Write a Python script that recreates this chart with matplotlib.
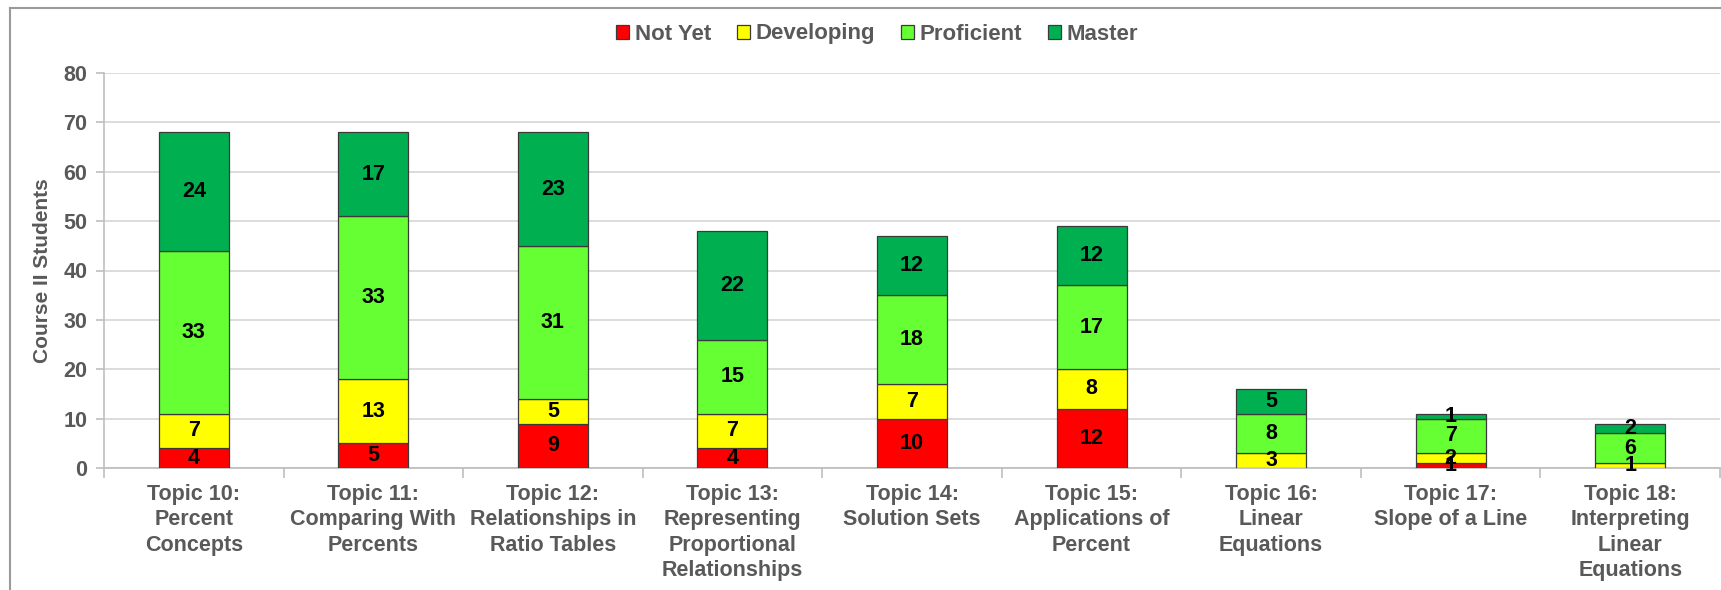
import numpy as np
import matplotlib
matplotlib.use("Agg")
import matplotlib.pyplot as plt
from matplotlib.lines import Line2D

plt.rcParams['font.family'] = ['Liberation Sans', 'DejaVu Sans']
plt.rcParams['font.weight'] = 'bold'

topics = ["Topic 10:\nPercent\nConcepts", "Topic 11:\nComparing With\nPercents",
          "Topic 12:\nRelationships in\nRatio Tables",
          "Topic 13:\nRepresenting\nProportional\nRelationships",
          "Topic 14:\nSolution Sets", "Topic 15:\nApplications of\nPercent",
          "Topic 16:\nLinear\nEquations", "Topic 17:\nSlope of a Line",
          "Topic 18:\nInterpreting\nLinear\nEquations"]
not_yet = [4, 5, 9, 4, 10, 12, 0, 1, 0]
developing = [7, 13, 5, 7, 7, 8, 3, 2, 1]
proficient = [33, 33, 31, 15, 18, 17, 8, 7, 6]
master = [24, 17, 23, 22, 12, 12, 5, 1, 2]

series = [("Not Yet", not_yet, "#FF0000"),
          ("Developing", developing, "#FFFF00"),
          ("Proficient", proficient, "#66FF33"),
          ("Master", master, "#00B050")]

grey = "#595959"

fig = plt.figure(figsize=(17.21, 5.9), dpi=100)
ax = fig.add_axes([104 / 1721, 1 - 468 / 590, (1720 - 104) / 1721, (468 - 73) / 590])

x = np.arange(len(topics))
bottom = np.zeros(len(topics))
for name, vals, col in series:
    bars = ax.bar(x, vals, 0.39, bottom=bottom, color=col, edgecolor="#3a3a3a",
                  linewidth=0.9, zorder=3, label=name)
    labels = [str(v) if v else "" for v in vals]
    ax.bar_label(bars, labels=labels, label_type="center", fontsize=15.5,
                 fontweight="bold", color="black", zorder=4)
    bottom += np.array(vals)

ax.set_xlim(-0.5, len(topics) - 0.5)
ax.set_ylim(0, 80)
ax.set_yticks(range(0, 81, 10))
ax.yaxis.grid(True, color="#d9d9d9", linewidth=1.3, zorder=0)
ax.set_axisbelow(True)

ax.set_xticks(x)
ax.set_xticklabels(topics, fontsize=15.5, color=grey, linespacing=1.27,
                   fontweight="bold")
ax.set_xticks(np.arange(-0.5, len(topics), 1), minor=True)
ax.tick_params(axis="x", which="major", length=0, pad=11.5)
ax.tick_params(axis="x", which="minor", length=7, color="#bfbfbf", width=1.2)
ax.tick_params(axis="y", labelsize=15.5, labelcolor=grey, length=6,
               color="#bfbfbf", width=1.2, pad=6)
for t in ax.get_yticklabels():
    t.set_fontweight("bold")

for s in ["top", "right"]:
    ax.spines[s].set_visible(False)
ax.spines["left"].set_color("#bfbfbf")
ax.spines["bottom"].set_color("#bfbfbf")
ax.spines["left"].set_linewidth(1.2)
ax.spines["bottom"].set_linewidth(1.3)

ax.set_ylabel("Course II Students", fontsize=15, color=grey, fontweight="bold")
ax.yaxis.set_label_coords((52 - 104) / 1616, 0.5)

fig.legend(loc="center", bbox_to_anchor=(877 / 1721, 1 - 34 / 590), ncol=4,
           frameon=False, labelcolor=grey, handlelength=0.6,
           handleheight=0.6, handletextpad=0.25, columnspacing=1.15,
           prop={"weight": "bold", "size": 16})

# outer chart frame (only top and left are visible in the crop)
fig.add_artist(Line2D([10 / 1721, 1], [1 - 8 / 590, 1 - 8 / 590],
                      transform=fig.transFigure, color="#9a9a9a", linewidth=1.5))
fig.add_artist(Line2D([10 / 1721, 10 / 1721], [0, 1 - 8 / 590],
                      transform=fig.transFigure, color="#9a9a9a", linewidth=1.5))

fig.savefig("out.png", dpi=100)
